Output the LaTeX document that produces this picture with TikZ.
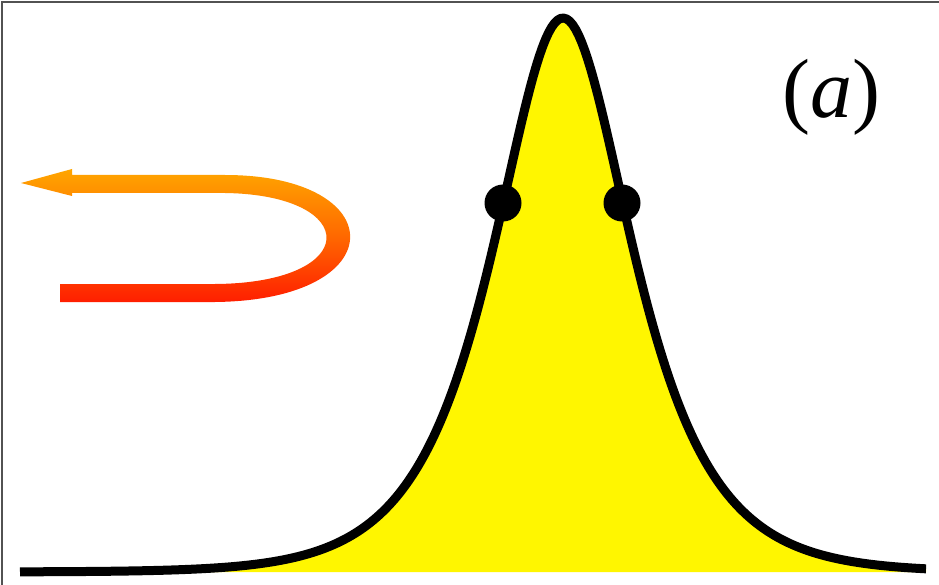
\documentclass[tikz,border=0pt]{standalone}
\usepackage{fontspec}
\setmainfont{Liberation Serif}
\begin{document}
\begin{tikzpicture}[x=1pt,y=-1pt,
  curve/.style={line width=9pt, black, line cap=butt, line join=round},
  dot/.style={circle, fill=black, inner sep=0pt, minimum size=37pt},
  framel/.style={draw=black!68, line width=2pt}]
\definecolor{peakyellow}{RGB}{255,246,0}
\definecolor{arrtop}{RGB}{255,166,0}
\definecolor{arrbot}{RGB}{255,30,0}
\useasboundingbox (0,0) rectangle (939,585);
% frame (top and left only)
\coordinate (fbl) at (2,585);
\coordinate (ftl) at (2,2);
\coordinate (ftr) at (939,2);
\draw[framel] (fbl) -- (ftl) -- (ftr);
% yellow peak
\fill[peakyellow] plot[domain=-543:363, samples=301] ({563+\x},{572-554/cosh(\x/62)}) -- (926,572) -- (20,572) -- cycle;
\draw[curve] plot[domain=-543:363, samples=301] ({563+\x},{572-554/cosh(\x/62)});
% dots
\node[dot] (d1) at (503,203) {};
\node[dot] (d2) at (622,203) {};
% label
\node[inner sep=0pt] (lab) at (831,97) {\fontsize{84}{86}\selectfont (\textit{a})};
% U-shaped gradient arrow
\shade[top color=arrtop, bottom color=arrbot, middle color=arrtop!55!arrbot]
  (60,302) -- (215,302)
  .. controls (395,300) and (392,175) .. (225,175)
  -- (72,175) -- (72,169) -- (21,183) -- (72,196) -- (72,193)
  -- (225,193)
  .. controls (362,195) and (362,283) .. (215,284)
  -- (60,284) -- cycle;
\end{tikzpicture}
\end{document}
